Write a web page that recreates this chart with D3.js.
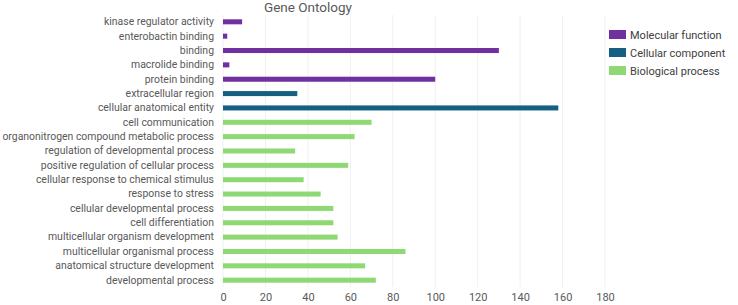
<!DOCTYPE html>
<html>
<head>
<meta charset="utf-8">
<script src="https://cdn.jsdelivr.net/npm/d3@7"></script>
<style>
  body { margin: 0; background: #fff; }
  text { font-family: Roboto, sans-serif; }
</style>
</head>
<body>
<div id="chart"></div>
<script>
// categories top to bottom
var categories = [
  "kinase regulator activity", "enterobactin binding", "binding", "macrolide binding",
  "protein binding", "extracellular region", "cellular anatomical entity",
  "cell communication", "organonitrogen compound metabolic process",
  "regulation of developmental process", "positive regulation of cellular process",
  "cellular response to chemical stimulus", "response to stress",
  "cellular developmental process", "cell differentiation",
  "multicellular organism development", "multicellular organismal process",
  "anatomical structure development", "developmental process"
];
var values = [9, 2, 130, 3, 100, 35, 158, 70, 62, 34, 59, 38, 46, 52, 52, 54, 86, 67, 72];
var groups = ["Molecular function", "Molecular function", "Molecular function", "Molecular function",
  "Molecular function", "Cellular component", "Cellular component",
  "Biological process", "Biological process", "Biological process", "Biological process",
  "Biological process", "Biological process", "Biological process", "Biological process",
  "Biological process", "Biological process", "Biological process", "Biological process"];
var seriesNames = ["Molecular function", "Cellular component", "Biological process"];
var xTicks = [0, 20, 40, 60, 80, 100, 120, 140, 160, 180];

var width = 738, height = 305,
    margin = {top: 15, right: 133, bottom: 18, left: 223};

var svg = d3.select("#chart").append("svg")
    .attr("width", width)
    .attr("height", height);

var x = d3.scaleLinear().domain([0, 180]).range([margin.left, width - margin.right]);
var y = d3.scaleBand().domain(categories)
    .range([margin.top, height - margin.bottom]).paddingInner(0.65).paddingOuter(0.3);
var color = d3.scaleOrdinal().domain(seriesNames).range(["#7030A0", "#156082", "#8ED973"]);

// gridlines
svg.append("g")
    .selectAll("line")
    .data(xTicks)
    .enter().append("line")
    .attr("x1", function(d) { return x(d); })
    .attr("x2", function(d) { return x(d); })
    .attr("y1", margin.top)
    .attr("y2", height - margin.bottom)
    .attr("stroke", "#f0f0f0")
    .attr("stroke-width", 1);

var data = categories.map(function(c, i) { return {cat: c, val: values[i], grp: groups[i]}; });

svg.append("g")
    .selectAll("rect")
    .data(data)
    .enter().append("rect")
    .attr("x", x(0))
    .attr("y", function(d) { return y(d.cat); })
    .attr("width", function(d) { return x(d.val) - x(0); })
    .attr("height", y.bandwidth())
    .attr("fill", function(d) { return color(d.grp); });

// y axis labels
var yAxis = svg.append("g")
    .attr("transform", "translate(" + (margin.left - 9) + ",0)")
    .call(d3.axisLeft(y).tickSize(0).tickPadding(0));
yAxis.select(".domain").remove();
yAxis.selectAll("text").attr("font-size", "11px").attr("fill", "#595959")
    .style("font-family", "Roboto, sans-serif");

// shrink labels a bit if the longest one runs past the left edge
var widest = d3.max(yAxis.selectAll("text").nodes(), function(n) { return n.getComputedTextLength(); });
if (widest > margin.left - 11) {
  yAxis.selectAll("text").attr("font-size", (11 * (margin.left - 11) / widest) + "px");
}

// x axis
var xAxis = svg.append("g")
    .attr("transform", "translate(0," + (height - 12) + ")")
    .call(d3.axisBottom(x).tickValues(xTicks).tickSize(0).tickPadding(0));
xAxis.select(".domain").remove();
xAxis.selectAll("text").attr("font-size", "11px").attr("fill", "#595959")
    .style("font-family", "Roboto, sans-serif");

// title
svg.append("text")
    .attr("x", 308)
    .attr("y", 12)
    .attr("text-anchor", "middle")
    .attr("font-size", "13.5px")
    .attr("fill", "#595959")
    .text("Gene Ontology");

// legend
var legend = svg.append("g")
    .selectAll("g")
    .data(seriesNames)
    .enter().append("g")
    .attr("transform", function(d, i) { return "translate(609," + (30 + i * 18) + ")"; });
legend.append("rect")
    .attr("width", 17).attr("height", 9)
    .attr("fill", function(d) { return color(d); });
legend.append("text")
    .attr("x", 21).attr("y", 5)
    .attr("dy", "0.35em")
    .attr("font-size", "11px")
    .attr("fill", "#404040")
    .text(function(d) { return d; });
</script>
</body>
</html>
